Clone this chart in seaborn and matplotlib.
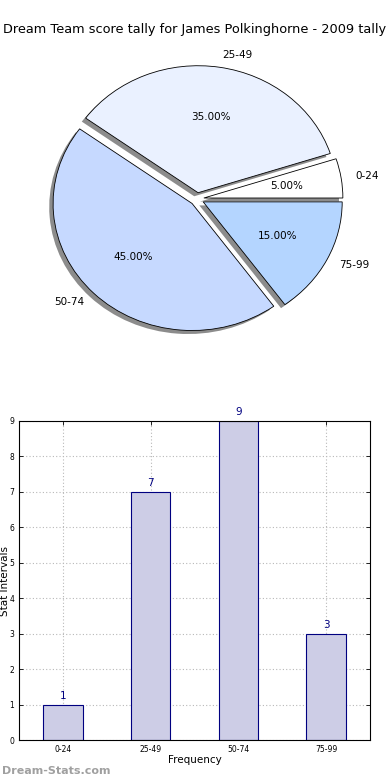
import matplotlib
matplotlib.use("Agg")
import matplotlib.pyplot as plt
import seaborn as sns
import pandas as pd

categories = ["0-24", "25-49", "50-74", "75-99"]
counts = [1, 7, 9, 3]
pie_colors = ["#ffffff", "#eaf1ff", "#c6d9ff", "#b4d5ff"]
title = "Dream Team score tally for James Polkinghorne - 2009 tally"

sns.set_theme(style="ticks")
plt.rcParams['font.family'] = ['DejaVu Sans']
plt.rcParams['text.color'] = 'black'
plt.rcParams['axes.labelcolor'] = 'black'
plt.rcParams['xtick.color'] = 'black'
plt.rcParams['ytick.color'] = 'black'

W, H = 390, 780
fig = plt.figure(figsize=(W / 100, H / 100), dpi=100)

# ---- pie ----
cx, cy, rx, ry = 197, 199, 139, 127
top_px, bot_px = 40, 360
axp = fig.add_axes([0, 1 - bot_px / H, 1, (bot_px - top_px) / H])
axp.pie(counts, labels=categories, colors=pie_colors, explode=[0.05] * 4,
        autopct="%.2f%%", shadow=dict(ox=-0.02, oy=-0.02, facecolor="#808080", edgecolor="none", alpha=0.9),
        startangle=0, counterclock=True,
        wedgeprops=dict(edgecolor="black", linewidth=0.6),
        textprops=dict(fontsize=7.5, color="black"))
axp.set_aspect("auto")
axp.set_xlim((0 - cx) / rx, (W - cx) / rx)
axp.set_ylim((cy - bot_px) / ry, (cy - top_px) / ry)
axp.axis("off")

fig.text(0.5, 1 - 30 / H, title, ha="center", va="center", fontsize=9.3, color="black")

# ---- bars ----
L, R, T, B = 19, 370, 421, 740
axb = fig.add_axes([L / W, 1 - B / H, (R - L) / W, (B - T) / H])
df = pd.DataFrame({"cat": categories, "count": counts})
sns.barplot(data=df, x="cat", y="count", ax=axb, color="#cdcde6",
            width=0.45, edgecolor="#000080", linewidth=0.8, saturation=1)
axb.set_xlim(-0.5, 3.5)
axb.set_ylim(0, 9)
axb.set_yticks(range(10))
axb.grid(True, linestyle=(0, (1, 2)), color="#b8b8b8", linewidth=0.8)
for p in axb.patches:
    p.set_zorder(1)
for gl in axb.get_xgridlines() + axb.get_ygridlines():
    gl.set_zorder(2)
axb.tick_params(direction="in", top=True, right=True, labelsize=5.5, length=3, width=0.6)
for s in axb.spines.values():
    s.set_linewidth(0.8)
    s.set_color("black")
    s.set_zorder(5)
axb.set_xlabel("Frequency", fontsize=7.5, labelpad=1)
axb.set_ylabel("Stat Intervals", fontsize=7.5)
axb.yaxis.set_label_coords((10 - L) / (R - L), 0.5)
for i, v in enumerate(counts):
    axb.text(i, v + 0.1, str(v), ha="center", va="bottom", color="#000080", fontsize=7.5)

fig.text(2 / W, 1 - 771 / H, "Dream-Stats.com", ha="left", va="center",
         fontsize=8, color="#a0a0a0", fontweight="bold")

fig.savefig("out.png", dpi=100)
